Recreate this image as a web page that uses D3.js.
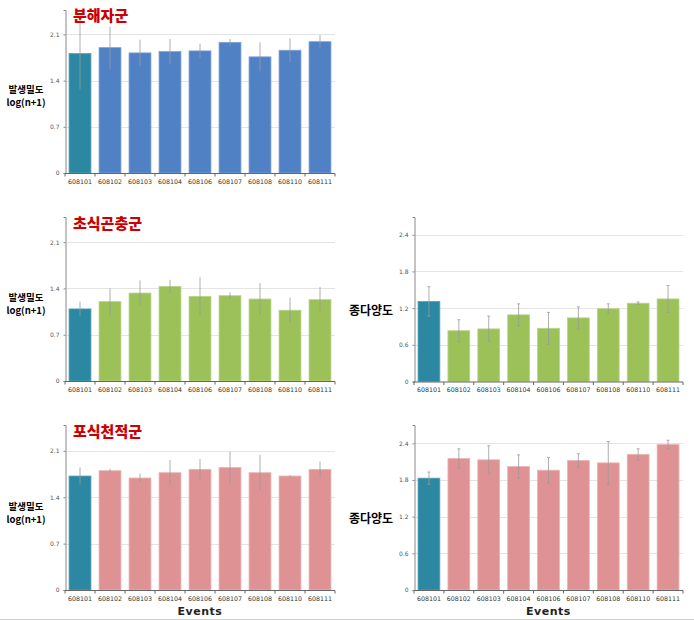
<!DOCTYPE html>
<html><head><meta charset="utf-8">
<script src="https://cdnjs.cloudflare.com/ajax/libs/d3/7.8.5/d3.min.js"></script>
<style>body{margin:0;background:#fff;}svg{display:block;}</style>
</head><body>
<script>
const events = ["608101","608102","608103","608104","608106","608107","608108","608110","608111"];

const decompValues = [1.81,1.90,1.82,1.84,1.85,1.98,1.76,1.86,1.99];
const decompErr    = [0.55,0.32,0.20,0.19,0.11,0.05,0.22,0.18,0.10];

const herbValues = [1.09,1.20,1.33,1.43,1.28,1.29,1.24,1.07,1.23];
const herbErr    = [0.11,0.20,0.19,0.10,0.29,0.05,0.24,0.19,0.19];

const herbDivValues = [1.31,0.83,0.86,1.09,0.87,1.04,1.19,1.28,1.35];
const herbDivErr    = [0.24,0.18,0.21,0.18,0.26,0.18,0.08,0.02,0.22];

const predValues = [1.72,1.80,1.69,1.77,1.82,1.85,1.77,1.72,1.82];
const predErr    = [0.13,0.03,0.07,0.19,0.16,0.24,0.27,0.01,0.12];

const predDivValues = [1.83,2.15,2.13,2.02,1.96,2.12,2.08,2.22,2.38];
const predDivErr    = [0.10,0.16,0.23,0.19,0.21,0.11,0.35,0.09,0.07];

const densityTicks = [0,0.7,1.4,2.1];
const diversityTicks = [0,0.6,1.2,1.8,2.4];

const W = 694, H = 620;
const svg = d3.select("body").append("svg").attr("width", W).attr("height", H);
const KFONT = "'Noto Sans CJK KR','Noto Sans',sans-serif";

function panel(o) {
  const x = d3.scaleBand().domain(events).range([o.x0, o.x1]).paddingInner(0.27).paddingOuter(0.135);
  const y = d3.scaleLinear().domain([0, o.max]).range([o.y0, o.yTop]);
  const g = svg.append("g");
  g.selectAll("line.grid").data(o.ticks.filter(t => t > 0)).join("line")
    .attr("x1", o.x0).attr("x2", o.x1)
    .attr("y1", d => Math.round(y(d)) + 0.5).attr("y2", d => Math.round(y(d)) + 0.5)
    .attr("stroke", "#e4e4e4").attr("stroke-width", 1);
  g.selectAll("rect").data(o.values).join("rect")
    .attr("x", (d, i) => x(events[i])).attr("width", x.bandwidth())
    .attr("y", d => y(d)).attr("height", d => y(0) - y(d))
    .attr("fill", (d, i) => i === 0 ? "#2c87a2" : o.color)
    .attr("stroke", (d, i) => i === 0 ? "#5aa3b8" : o.stroke).attr("stroke-width", 0.8);
  const eb = g.selectAll("g.eb").data(o.values).join("g");
  eb.append("line")
    .attr("x1", (d, i) => x(events[i]) + x.bandwidth() / 2)
    .attr("x2", (d, i) => x(events[i]) + x.bandwidth() / 2)
    .attr("y1", (d, i) => y(d + o.err[i])).attr("y2", (d, i) => y(Math.max(0, d - o.err[i])))
    .attr("stroke", "#9a9a9a").attr("stroke-width", 0.8);
  if (o.caps) {
    ["top", "bot"].forEach(k => {
      eb.append("line")
        .attr("x1", (d, i) => x(events[i]) + x.bandwidth() / 2 - 1.5)
        .attr("x2", (d, i) => x(events[i]) + x.bandwidth() / 2 + 1.5)
        .attr("y1", (d, i) => y(k === "top" ? d + o.err[i] : d - o.err[i]))
        .attr("y2", (d, i) => y(k === "top" ? d + o.err[i] : d - o.err[i]))
        .attr("stroke", "#9a9a9a").attr("stroke-width", 0.8);
    });
  }
  const ya = d3.axisLeft(y).tickValues(o.ticks).tickSize(2).tickPadding(4)
    .tickFormat(d => d === 0 ? "0" : d3.format(".1f")(d));
  const yg = g.append("g").attr("transform", `translate(${o.x0 + 0.5},0)`).call(ya);
  yg.select(".domain").attr("stroke", "#888");
  yg.selectAll(".tick line").attr("stroke", "#888");
  yg.selectAll("text").attr("fill", "#555").attr("font-size", 6).attr("font-family", "'DejaVu Sans',sans-serif");
  const xg = g.append("g").attr("transform", `translate(0,${o.y0 + 0.5})`);
  xg.append("line").attr("x1", o.x0).attr("x2", o.x1).attr("stroke", "#666");
  const bounds = d3.range(events.length + 1).map(i => o.x0 + i * (o.x1 - o.x0) / events.length);
  xg.selectAll("line.t").data(bounds).join("line").attr("class", "t")
    .attr("x1", d => d).attr("x2", d => d).attr("y1", 0).attr("y2", 3).attr("stroke", "#666");
  xg.selectAll("text").data(events).join("text")
    .attr("x", d => x(d) + x.bandwidth() / 2).attr("y", 10)
    .attr("text-anchor", "middle").attr("font-size", 6.3).attr("fill", "#333")
    .attr("font-family", "'DejaVu Sans',sans-serif").text(d => d);
  if (o.title) {
    g.append("text").attr("x", o.x0 + 8).attr("y", o.titleY)
      .attr("font-size", 15).attr("font-weight", 900).attr("fill", "#cc0000")
      .attr("font-family", KFONT).text(o.title);
  }
  if (o.ylab === "density") {
    g.append("text").attr("x", 26).attr("y", o.y0 - 80).attr("text-anchor", "middle")
      .attr("font-size", 9.5).attr("font-weight", 700).attr("font-family", KFONT).text("발생밀도");
    g.append("text").attr("x", 26).attr("y", o.y0 - 67).attr("text-anchor", "middle")
      .attr("font-size", 9.5).attr("font-weight", 700).attr("font-family", KFONT).text("log(n+1)");
  } else {
    g.append("text").attr("x", 371).attr("y", o.y0 - 67).attr("text-anchor", "middle")
      .attr("font-size", 12).attr("font-weight", 700).attr("font-family", KFONT).text("종다양도");
  }
  if (o.events) {
    g.append("text").attr("x", (o.x0 + o.x1) / 2).attr("y", 615).attr("text-anchor", "middle")
      .attr("font-size", 11).attr("font-weight", 700).attr("letter-spacing", 0.5)
      .attr("font-family", "'DejaVu Sans',sans-serif").attr("fill", "#222").text("Events");
  }
}

const L = {x0: 65, x1: 335}, R = {x0: 414, x1: 683};
panel({...L, y0: 173, yTop: 10, max: 2.47, ticks: densityTicks, values: decompValues, err: decompErr,
  color: "#4f81c4", stroke: "#7ea3d6", title: "분해자군", titleY: 21, ylab: "density"});
panel({...L, y0: 381, yTop: 217, max: 2.48, ticks: densityTicks, values: herbValues, err: herbErr,
  color: "#9cc158", stroke: "#b8d488", title: "초식곤충군", titleY: 229, ylab: "density"});
panel({...R, y0: 381.5, yTop: 217, max: 2.69, ticks: diversityTicks, values: herbDivValues, err: herbDivErr,
  color: "#9cc158", stroke: "#b8d488", caps: true, ylab: "div"});
panel({...L, y0: 590, yTop: 425, max: 2.49, ticks: densityTicks, values: predValues, err: predErr,
  color: "#df9294", stroke: "#ebb3b4", title: "포식천적군", titleY: 437, ylab: "density", events: true});
panel({...R, y0: 590, yTop: 425, max: 2.7, ticks: diversityTicks, values: predDivValues, err: predDivErr,
  color: "#df9294", stroke: "#ebb3b4", caps: true, ylab: "div", events: true});

svg.append("line").attr("x1", 0).attr("x2", W).attr("y1", 619.5).attr("y2", 619.5).attr("stroke", "#d0d0d0");
</script>
</body></html>
